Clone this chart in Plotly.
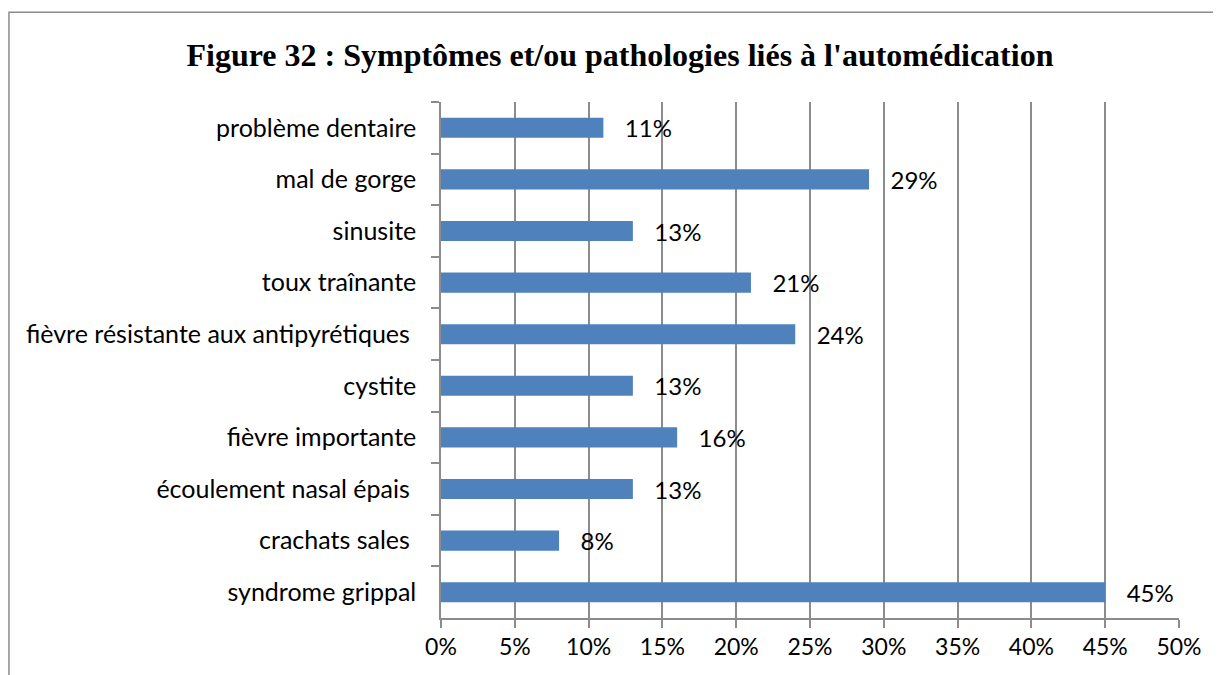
import plotly.graph_objects as go

# Categories listed top to bottom as in the figure
categories = [
    "problème dentaire",
    "mal de gorge",
    "sinusite",
    "toux traînante",
    "fièvre résistante aux antipyrétiques\u00a0",
    "cystite",
    "fièvre importante",
    "écoulement nasal épais\u00a0",
    "crachats sales\u00a0",
    "syndrome grippal",
]
percentages = [11, 29, 13, 21, 24, 13, 16, 13, 8, 45]
x_ticks = [0, 5, 10, 15, 20, 25, 30, 35, 40, 45, 50]

fig = go.Figure(go.Bar(
    x=percentages,
    y=categories,
    orientation='h',
    marker=dict(color='#4F81BD', line=dict(width=0)),
    width=0.39,
    text=[f'{v}%' for v in percentages],
    texttemplate='   %{text}',
    textposition='outside',
    constraintext='none',
    cliponaxis=False,
    textfont=dict(family='Lato, Open Sans, sans-serif', size=24, color='black'),
))

fig.update_layout(
    width=1213,
    height=667,
    margin=dict(l=433, r=42, t=94, b=57),
    paper_bgcolor='white',
    plot_bgcolor='white',
    showlegend=False,
    title=dict(
        text="<b>Figure 32 : Symptômes et/ou pathologies liés à l'automédication</b>",
        x=0.5045, xanchor='center', y=0.9295, yanchor='middle',
        font=dict(family='Liberation Serif, Times New Roman, serif', size=32, color='black'),
    ),
    font=dict(family='Lato, Open Sans, sans-serif', size=23, color='black'),
    xaxis=dict(
        range=[0, 50],
        tickvals=x_ticks,
        ticktext=[f'{t}%' for t in x_ticks],
        showgrid=True, gridcolor='#8C8C8C', gridwidth=1.5,
        showline=True, linecolor='#8C8C8C', linewidth=1.5,
        ticks='outside', ticklen=8, tickcolor='#8C8C8C', tickwidth=1.5,
        zeroline=False,
        automargin=False,
        tickfont=dict(size=23, color='black'),
    ),
    yaxis=dict(
        autorange='reversed',
        showline=True, linecolor='#8C8C8C', linewidth=1.5,
        ticks='outside', ticklen=8, tickcolor='#8C8C8C', tickwidth=1.5,
        tickson='boundaries',
        showgrid=False,
        automargin=False,
        ticklabelstandoff=18,
        tickfont=dict(size=25, color='black'),
    ),
    shapes=[dict(
        type='rect', xref='paper', yref='paper',
        x0=-0.5854, x1=1.2, y0=-0.3, y1=1.174,
        line=dict(color='#8C8C8C', width=1.5), fillcolor='rgba(0,0,0,0)',
        layer='below',
    )],
)

fig.write_html("out.html")
